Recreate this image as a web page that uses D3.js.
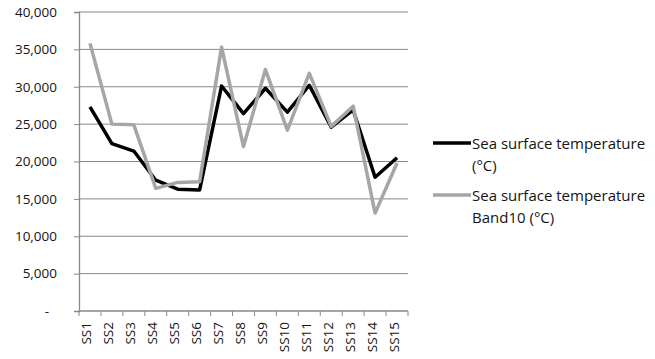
<!DOCTYPE html>
<html>
<head>
<meta charset="utf-8">
<script src="https://cdn.jsdelivr.net/npm/d3@7"></script>
<style>
  html, body { margin: 0; padding: 0; background: #fff; }
  svg { display: block; font-family: "Open Sans", "Liberation Sans", sans-serif; }
</style>
</head>
<body>
<svg id="chart" width="655" height="359"></svg>
<script>
// Sampling stations
const stations = ["SS1","SS2","SS3","SS4","SS5","SS6","SS7","SS8","SS9","SS10","SS11","SS12","SS13","SS14","SS15"];
// Sea surface temperature (°C)
const sst = [27300, 22400, 21400, 17500, 16300, 16200, 30100, 26400, 29800, 26600, 30200, 24600, 26900, 17900, 20500];
// Sea surface temperature, Band10 (°C)
const sstBand10 = [35800, 25000, 24900, 16400, 17200, 17300, 35300, 22000, 32300, 24200, 31800, 24700, 27400, 13100, 19800];
// Axis ticks
const yTicks = [0, 5000, 10000, 15000, 20000, 25000, 30000, 35000, 40000];
const seriesNames = [["Sea surface temperature", "(°C)"], ["Sea surface temperature", "Band10 (°C)"]];
const seriesColors = ["#000000", "#A6A6A6"];

const svg = d3.select("#chart");
const margin = { left: 79, right: 247, top: 12, bottom: 48 };
const W = 655, H = 359;
const textColor = "#141414";

const x = d3.scaleBand().domain(stations).range([margin.left, W - margin.right]);
const y = d3.scaleLinear().domain([0, 40000]).range([H - margin.bottom, margin.top]);

// Horizontal gridlines
svg.append("g").selectAll("line").data(yTicks.filter(d => d > 0)).join("line")
  .attr("x1", margin.left).attr("x2", W - margin.right)
  .attr("y1", d => y(d)).attr("y2", d => y(d))
  .attr("stroke", "#898989").attr("stroke-width", 1);

// Y axis
const yAxis = svg.append("g").attr("transform", `translate(${margin.left},0)`)
  .call(d3.axisLeft(y).tickValues(yTicks).tickSize(5).tickPadding(17)
    .tickFormat(d => d === 0 ? "-" : d3.format(",")(d)));
yAxis.select(".domain").attr("stroke", "#898989").attr("stroke-width", 1.3);
yAxis.selectAll(".tick line").attr("stroke", "#898989");
yAxis.selectAll(".tick text").attr("font-size", 13.5).attr("fill", textColor)
  .attr("font-family", "'Open Sans', sans-serif");
yAxis.selectAll(".tick").filter(d => d === 0).select("text").attr("dx", -8);

// X axis with ticks at category boundaries
const xAxisG = svg.append("g").attr("transform", `translate(0,${y(0)})`);
xAxisG.append("line").attr("x1", margin.left).attr("x2", W - margin.right)
  .attr("stroke", "#898989").attr("stroke-width", 1.3);
const bounds = stations.map(s => x(s)).concat([W - margin.right]);
xAxisG.selectAll("line.tk").data(bounds).join("line").attr("class", "tk")
  .attr("x1", d => d).attr("x2", d => d).attr("y1", 0).attr("y2", 5)
  .attr("stroke", "#898989");
xAxisG.selectAll("text").data(stations).join("text")
  .attr("transform", d => `translate(${x(d) + x.bandwidth() / 2 + 1.5},11) rotate(-90)`)
  .attr("text-anchor", "end").attr("font-size", 13.5).attr("fill", textColor)
  .text(d => d);

// Series lines
const line = d3.line().x((d, i) => x(stations[i]) + x.bandwidth() / 2).y(d => y(d));
[sst, sstBand10].forEach((vals, k) => {
  svg.append("path").datum(vals).attr("d", line)
    .attr("fill", "none").attr("stroke", seriesColors[k])
    .attr("stroke-width", 3.5).attr("stroke-linejoin", "round");
});

// Legend
const legend = svg.append("g");
const legY = [143, 195];
seriesNames.forEach((lines, k) => {
  legend.append("line").attr("x1", 433).attr("x2", 471)
    .attr("y1", legY[k]).attr("y2", legY[k])
    .attr("stroke", seriesColors[k]).attr("stroke-width", 3.5);
  lines.forEach((t, j) => {
    legend.append("text").attr("x", 472).attr("y", legY[k] + 5.5 + j * 22)
      .attr("font-size", 15).attr("fill", textColor).text(t);
  });
});
</script>
</body>
</html>
